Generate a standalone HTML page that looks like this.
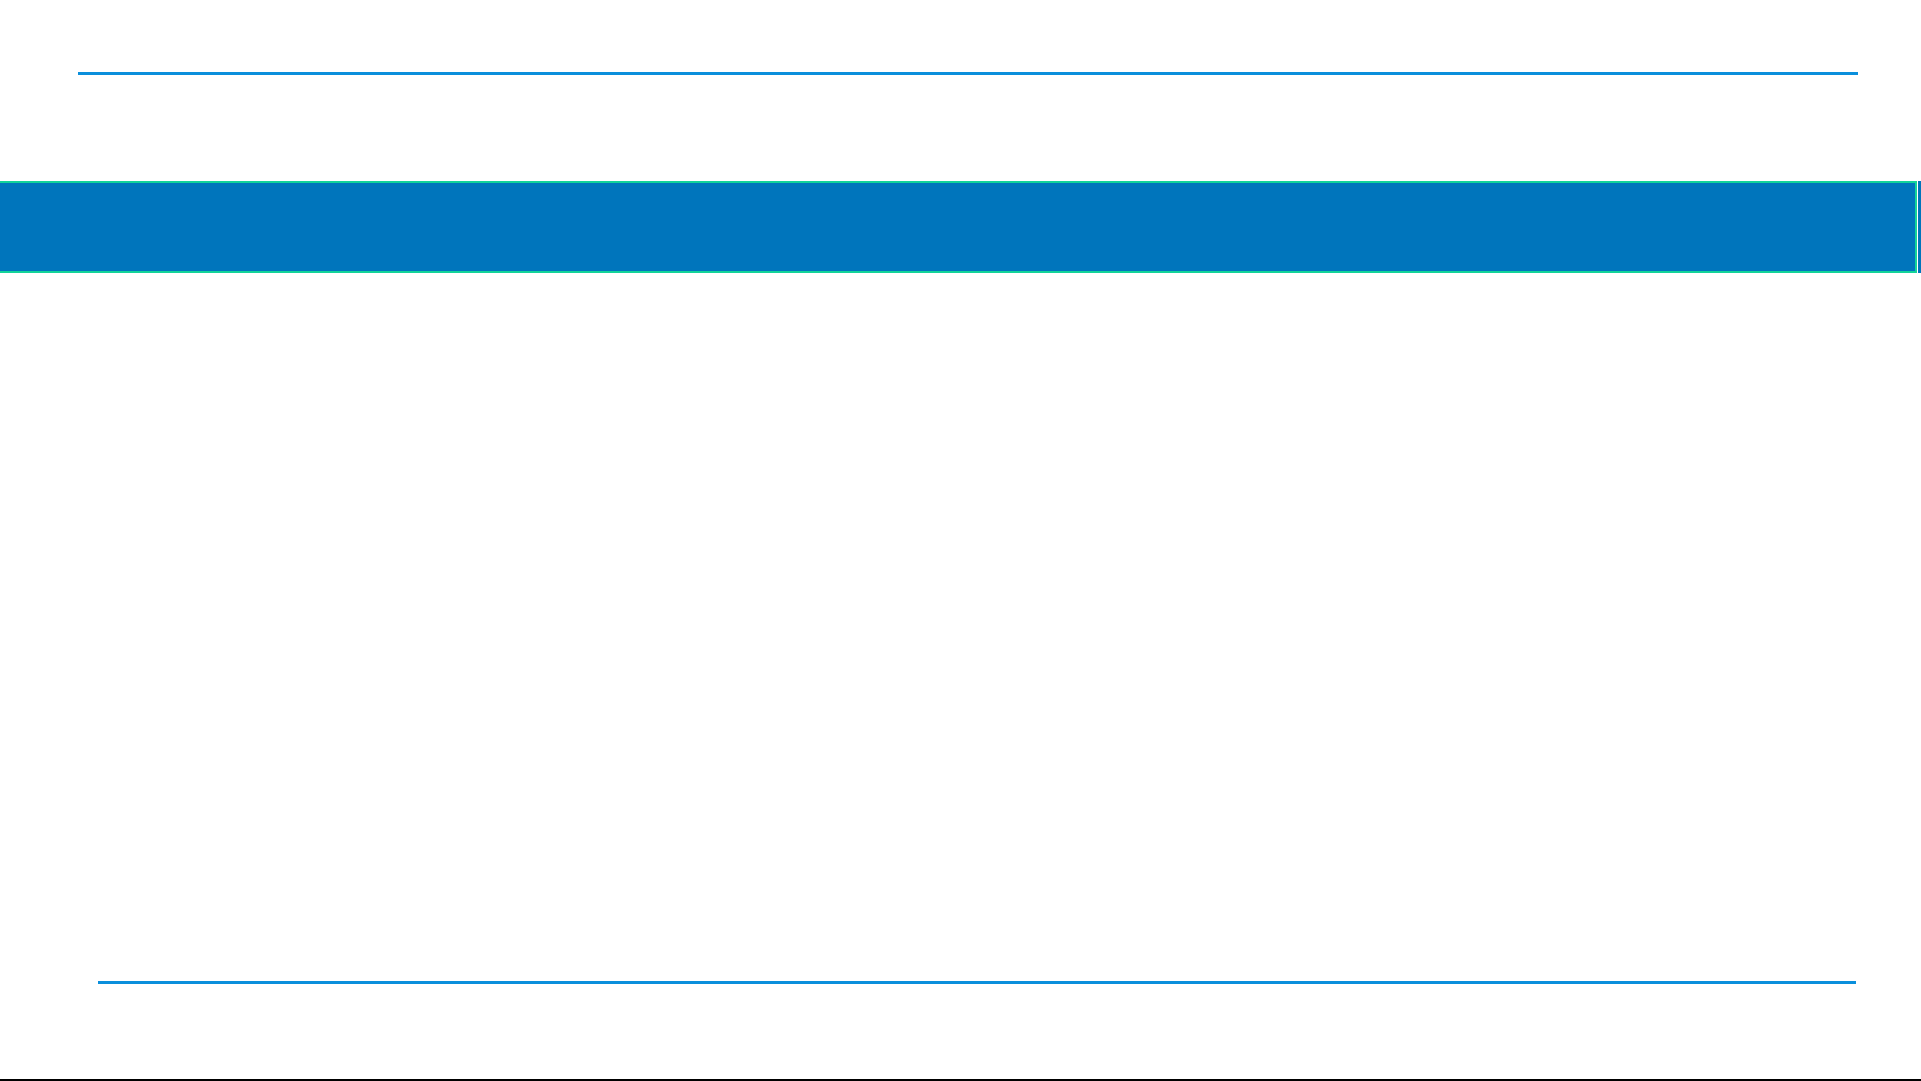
<!DOCTYPE html>
<html><head><style>
html,body{margin:0;padding:0;background:#fff;width:1921px;height:1081px;overflow:hidden;position:relative}
div{position:absolute}
</style></head><body>
<div style="left:78px;top:72px;width:1780px;height:3px;background:#0a8fdc"></div>
<div style="left:0;top:181px;width:1917px;height:92px;background:#0075bc;border:2px solid #12d39a;border-left:none;box-sizing:border-box"></div>
<div style="left:1918px;top:181px;width:3px;height:92px;background:#0075bc"></div>
<div style="left:98px;top:981px;width:1758px;height:3px;background:#0a8fdc"></div>
<div style="left:0;top:1079px;width:1921px;height:2px;background:#000"></div>
</body></html>
